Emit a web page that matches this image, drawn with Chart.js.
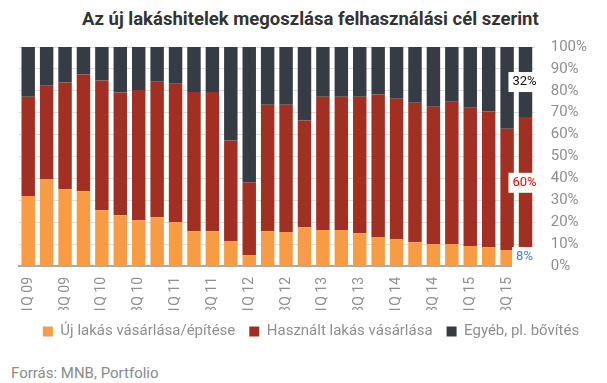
<!DOCTYPE html>
<html lang="hu">
<head>
<meta charset="UTF-8">
<title>Az új lakáshitelek megoszlása</title>
<script src="https://cdn.jsdelivr.net/npm/chart.js@4.4.1/dist/chart.umd.min.js"></script>
<style>
    body { margin: 0; background: #fff; position: relative; }
    #title {
        position: absolute; top: 8px; left: 82px;
        font: bold 18.5px Roboto, sans-serif; line-height: 22px; color: #333;
        white-space: nowrap;
    }
    #wrap { width: 607px; height: 327px; margin-top: 22px; position: relative; }
    #source {
        width: 607px; height: 34px; box-sizing: border-box;
        padding: 14px 0 0 11px;
        font: 15px Roboto, sans-serif; line-height: 20px; color: #8a8a8a;
    }
</style>
</head>
<body>
<div id="title">Az új lakáshitelek megoszlása felhasználási cél szerint</div>
<div id="wrap"><canvas id="barChart"></canvas></div>
<div id="source">Forrás: MNB, Portfolio</div>

<script>
// negyedévek
const quarters = [
    "1Q 09", "2Q 09", "3Q 09", "4Q 09",
    "1Q 10", "2Q 10", "3Q 10", "4Q 10",
    "1Q 11", "2Q 11", "3Q 11", "4Q 11",
    "1Q 12", "2Q 12", "3Q 12", "4Q 12",
    "1Q 13", "2Q 13", "3Q 13", "4Q 13",
    "1Q 14", "2Q 14", "3Q 14", "4Q 14",
    "1Q 15", "2Q 15", "3Q 15", "4Q 15"
];

// megoszlás (%)
const newHomes = [32, 39.5, 35, 34.1, 25.5, 23.2, 20.9, 22.3, 20, 15.9, 15.9, 11.4, 5, 15.9,
    15.5, 17.7, 16.4, 16.4, 15, 13.2, 12.3, 10.9, 10, 10, 9.1, 8.6, 7.3, 8];
const usedHomes = [45.3, 42.8, 48.8, 53.3, 59.2, 56, 59.5, 61.8, 63.2, 63.6, 63.6, 45.9, 33.2, 57.7,
    58.1, 48.7, 60.9, 60.9, 62.3, 65.1, 64.1, 63.6, 62.7, 65, 63.2, 61.9, 55.4, 60];
const otherUses = [22.7, 17.7, 16.2, 12.6, 15.3, 20.8, 19.6, 15.9, 16.8, 20.5, 20.5, 42.7, 61.8, 26.4,
    26.4, 33.6, 22.7, 22.7, 22.7, 21.7, 23.6, 25.5, 27.3, 25, 27.7, 29.5, 37.3, 32];

// utolsó oszlop feliratai
const lastLabels = ["8%", "60%", "32%"];
const lastLabelColors = ["#4f81bd", "#ff0000", "#111111"];

const yTicks = [0, 10, 20, 30, 40, 50, 60, 70, 80, 90, 100];

// felirat fehér háttérrel az utolsó oszlopon
const lastBarLabels = {
    id: "lastBarLabels",
    afterDatasetsDraw(chart) {
        const ctx = chart.ctx;
        ctx.save();
        ctx.font = "13px Roboto, sans-serif";
        ctx.textAlign = "center";
        ctx.textBaseline = "middle";
        chart.data.datasets.forEach((ds, i) => {
            const meta = chart.getDatasetMeta(i);
            const bar = meta.data[meta.data.length - 1];
            const cy = (bar.y + bar.base) / 2;
            const cx = bar.x - 1;
            const w = ctx.measureText(lastLabels[i]).width + 8;
            ctx.fillStyle = "#fff";
            ctx.fillRect(cx - w / 2, cy - 10, w, 20);
            ctx.fillStyle = lastLabelColors[i];
            ctx.fillText(lastLabels[i], cx, cy);
        });
        ctx.restore();
    }
};

Chart.defaults.font.family = "Roboto, sans-serif";
Chart.defaults.color = "#8f8f8f";

const ctx = document.getElementById("barChart").getContext("2d");
const chart = new Chart(ctx, {
    type: "bar",
    data: {
        labels: quarters,
        datasets: [
            { label: "Új lakás vásárlása/építése", data: newHomes, backgroundColor: "#f79b45" },
            { label: "Használt lakás vásárlása", data: usedHomes, backgroundColor: "#a23022" },
            { label: "Egyéb, pl. bővítés", data: otherUses, backgroundColor: "#373b44" }
        ]
    },
    options: {
        responsive: true,
        maintainAspectRatio: false,
        animation: false,
        barPercentage: 0.73,
        categoryPercentage: 1,
        layout: { padding: { left: 19, right: 4, top: 0, bottom: 0 } },
        plugins: {
            legend: {
                position: "bottom",
                labels: {
                    boxWidth: 10,
                    boxHeight: 10,
                    padding: 14,
                    color: "#8f8f8f",
                    font: { size: 15 }
                }
            },
            tooltip: { enabled: false }
        },
        scales: {
            x: {
                stacked: true,
                grid: { display: false, drawTicks: false },
                border: { color: "#aaa", width: 2 },
                afterFit: (scale) => { scale.height = 44; },
                ticks: {
                    autoSkip: false,
                    minRotation: 90,
                    maxRotation: 90,
                    padding: 11,
                    font: { size: 14 },
                    callback: (val, i) => (i % 2 === 0 ? quarters[i] : "")
                }
            },
            y: {
                stacked: true,
                position: "right",
                min: 0,
                max: 100,
                afterBuildTicks: (scale) => { scale.ticks = yTicks.map(v => ({ value: v })); },
                grid: { color: "#dcdcdc", drawTicks: false },
                border: { display: false },
                ticks: {
                    autoSkip: false,
                    padding: 16,
                    font: { size: 15 },
                    callback: (v) => v + "%"
                }
            }
        }
    },
    plugins: [lastBarLabels]
});
</script>
</body>
</html>
